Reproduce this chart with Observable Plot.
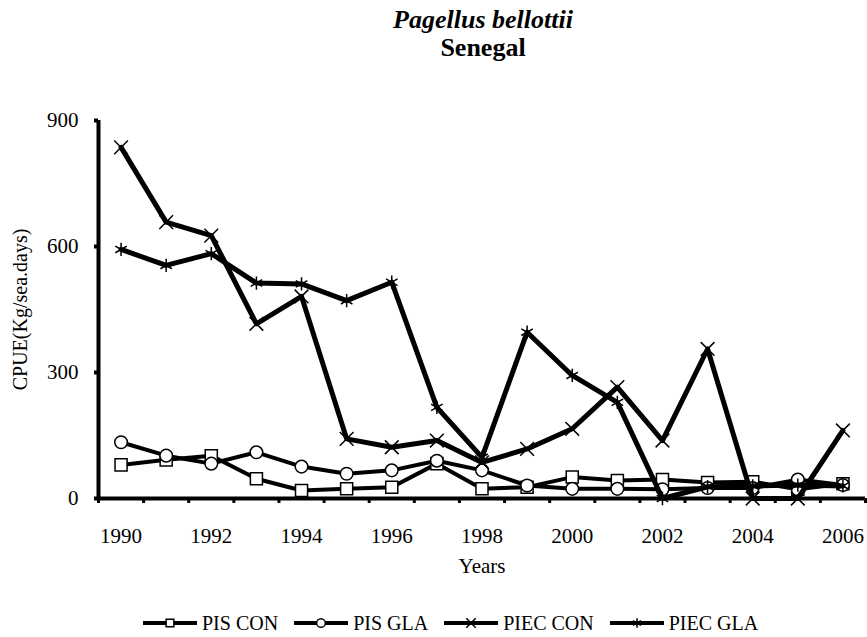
<!DOCTYPE html>
<html>
<head>
<meta charset="utf-8">
<script src="https://cdn.jsdelivr.net/npm/d3@7"></script>
<script src="https://cdn.jsdelivr.net/npm/@observablehq/plot@0.6"></script>
<style>
  body { margin: 0; background: #fff; }
  #page { position: relative; width: 867px; height: 637px; overflow: hidden;
          font-family: "Liberation Serif", "Times New Roman", Times, serif; color: #000; background: #fff; }
  #title { position: absolute; left: 0; top: 0; width: 867px; height: 70px; }
  #title div { position: absolute; left: 0; width: 966px; text-align: center; font-weight: bold; font-size: 26px; line-height: 30px;
               font-family: "Liberation Serif", "Times New Roman", Times, serif; }
  #t1 { top: 5px; font-style: italic; }
  #t2 { top: 33px; }
  #chart { position: absolute; left: 0; top: 70px; }
  #legend { position: absolute; left: 143px; top: 612px; display: flex; align-items: center; gap: 16px; font-size: 20px; line-height: 22px;
            font-family: "Liberation Serif", "Times New Roman", Times, serif; }
  .item { display: flex; align-items: center; }
  .item svg { margin-right: 5px; }
</style>
</head>
<body>
<div id="page">
  <div id="title"><div id="t1">Pagellus bellottii</div><div id="t2">Senegal</div></div>
  <div id="chart"></div>
  <div id="legend"></div>
</div>
<script>
// ---- data ----
const years = [1990, 1991, 1992, 1993, 1994, 1995, 1996, 1997, 1998, 1999, 2000, 2001, 2002, 2003, 2004, 2005, 2006];
const seriesNames = ["PIS CON", "PIS GLA", "PIEC CON", "PIEC GLA"];
const pisCon  = [80, 92, 102, 47, 19, 23, 27, 83, 23, 27, 51, 43, 45, 38, 40, 22, 35];
const pisGla  = [134, 102, 83, 110, 76, 59, 67, 90, 67, 31, 23, 23, 22, 25, 25, 45, 32];
const piecCon = [836, 658, 626, 416, 481, 142, 122, 138, 86, 118, 166, 265, 138, 356, 0, 0, 162];
const piecGla = [593, 555, 583, 513, 511, 471, 515, 217, 98, 396, 293, 229, 0, 28, 30, 32, 30];
const yTicks = [0, 300, 600, 900];
const xLabelYears = [1990, 1992, 1994, 1996, 1998, 2000, 2002, 2004, 2006];
const symbols = ["square", "circle", "times", "asterisk"];
const xTitle = "Years";
const yTitle = "CPUE(Kg/sea.days)";

// ---- table ----
const seriesValues = [pisCon, pisGla, piecCon, piecGla];
const table = [];
seriesNames.forEach((s, i) => years.forEach((yr, j) => table.push({series: s, year: yr, value: seriesValues[i][j]})));
const boundaries = years.map(y => y - 0.5).concat([years[years.length - 1] + 0.5]);

const seriesMarks = seriesNames.flatMap((s, i) => {
  const d = table.filter(r => r.series === s);
  return [
    Plot.line(d, {x: "year", y: "value", stroke: "black", strokeWidth: i < 2 ? 4 : 5}),
    Plot.dot(d, {x: "year", y: "value", symbol: () => symbols[i], r: i === 0 ? 6.8 : 6.3,
                 stroke: "black", strokeWidth: 1.5, fill: "white"})
  ];
});

const serif = "'Liberation Serif', 'Times New Roman', Times, serif";
const chart = Plot.plot({
  width: 867,
  height: 537,
  marginLeft: 98,
  marginRight: 2,
  marginTop: 50,
  marginBottom: 109,
  style: {fontFamily: serif, fontSize: "21px", color: "black", background: "white", overflow: "visible"},
  x: {domain: [boundaries[0], boundaries[boundaries.length - 1]]},
  y: {domain: [0, 900]},
  symbol: {domain: symbols, range: symbols},
  marks: [
    Plot.axisY({ticks: yTicks, tickSize: 4, tickPadding: 16, strokeWidth: 4, label: null, tickFormat: d => String(d), fontFamily: serif, fontSize: 21}),
    Plot.axisX({ticks: boundaries, tickSize: 5, strokeWidth: 3, tickFormat: () => "", label: null}),
    Plot.axisX({ticks: xLabelYears, tickSize: 0, tickPadding: 30, tickFormat: d => String(d), label: null, fontFamily: serif, fontSize: 21}),
    Plot.text([xTitle], {frameAnchor: "bottom", dy: 68, lineAnchor: "middle", textAnchor: "middle", fontSize: 21, fontFamily: serif}),
    Plot.text([yTitle], {frameAnchor: "left", dx: -78, rotate: -90, textAnchor: "middle", lineAnchor: "middle", fontSize: 20, fontFamily: serif}),
    ...seriesMarks,
    Plot.ruleY([0], {strokeWidth: 4}),
    Plot.ruleX([boundaries[0]], {strokeWidth: 4})
  ]
});
document.getElementById("chart").appendChild(chart);

// ---- legend ----
const legend = document.getElementById("legend");
seriesNames.forEach((s, i) => {
  const item = document.createElement("div");
  item.className = "item";
  const svg = d3.create("svg").attr("width", 54).attr("height", 14);
  svg.append("line").attr("x1", 0).attr("x2", 54).attr("y1", 7).attr("y2", 7)
     .attr("stroke", "black").attr("stroke-width", 4);
  const sym = [d3.symbolSquare, d3.symbolCircle, d3.symbolTimes, d3.symbolAsterisk][i];
  svg.append("path").attr("transform", "translate(27,7)")
     .attr("d", d3.symbol(sym, 60)())
     .attr("fill", i < 2 ? "white" : "none").attr("stroke", "black").attr("stroke-width", 1.5);
  item.appendChild(svg.node());
  const t = document.createElement("span");
  t.textContent = s;
  item.appendChild(t);
  legend.appendChild(item);
});
</script>
</body>
</html>
